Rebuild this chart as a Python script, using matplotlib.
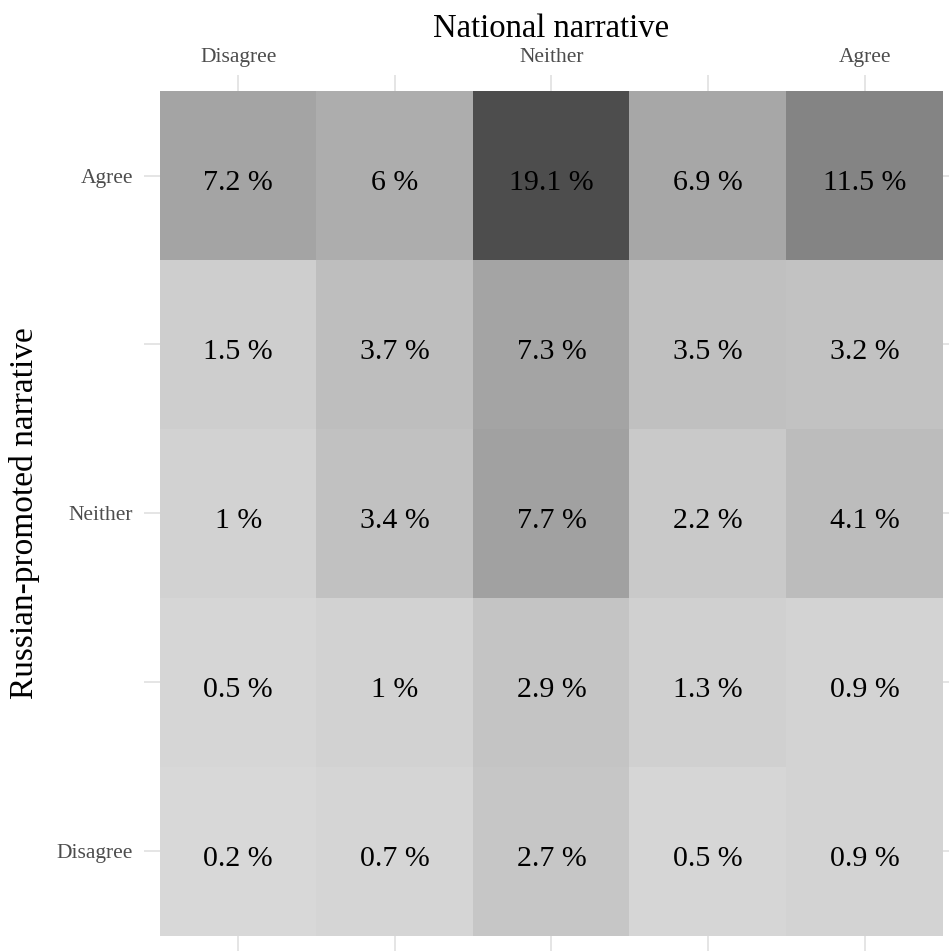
import numpy as np
import matplotlib
matplotlib.use("Agg")
import matplotlib.pyplot as plt
from matplotlib.colors import LinearSegmentedColormap

# national narrative (columns) and russian-promoted narrative (rows, top to bottom)
col_labels = ["Disagree", "", "Neither", "", "Agree"]
row_labels = ["Agree", "", "Neither", "", "Disagree"]

row_agree = [7.2, 6, 19.1, 6.9, 11.5]
row_4 = [1.5, 3.7, 7.3, 3.5, 3.2]
row_neither = [1, 3.4, 7.7, 2.2, 4.1]
row_2 = [0.5, 1, 2.9, 1.3, 0.9]
row_disagree = [0.2, 0.7, 2.7, 0.5, 0.9]

values = np.array([row_agree, row_4, row_neither, row_2, row_disagree])

plt.rcParams["font.family"] = ["Liberation Serif", "DejaVu Serif"]

fig = plt.figure(figsize=(9.49, 9.51), dpi=100)
ax = fig.add_axes([0.1686, 0.0158, 0.825, 0.8885])

cmap = LinearSegmentedColormap.from_list("greys", ["#dadada", "#4d4d4d"])
ax.imshow(values, cmap=cmap, vmin=0, vmax=values.max(), aspect="auto",
          extent=(-0.5, 4.5, 4.5, -0.5), interpolation="nearest")

# cell labels, nudged a little down like the original
for i in range(values.shape[0]):
    for j in range(values.shape[1]):
        ax.annotate(f"{values[i, j]:g} %", (j, i), xytext=(0, -3),
                    textcoords="offset points", ha="center", va="center_baseline",
                    fontsize=21.5, color="black")

ax.set_xticks(range(5))
ax.set_xticklabels(col_labels)
ax.set_yticks(range(5))
ax.set_yticklabels(row_labels)
ax.tick_params(axis="both", which="both", length=11.5, width=1.2, color="#e0e0e0",
               labelcolor="#4d4d4d", labelsize=15.5, pad=8,
               top=True, bottom=True, left=True, right=True,
               labeltop=True, labelbottom=False)
ax.tick_params(axis="x", pad=6)
ax.xaxis.set_label_position("top")
ax.set_xlabel("National narrative", fontsize=23.5, labelpad=8)
ax.set_ylabel("Russian-promoted narrative", fontsize=24, labelpad=12)

for s in ax.spines.values():
    s.set_visible(False)

fig.savefig("out.png", dpi=100)
